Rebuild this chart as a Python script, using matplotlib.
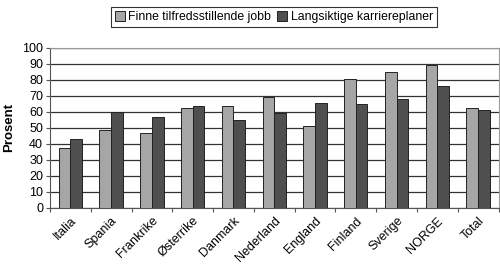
import numpy as np
import matplotlib
import matplotlib.pyplot as plt

matplotlib.rcParams['font.family'] = ['Liberation Sans', 'DejaVu Sans']
matplotlib.rcParams['font.size'] = 9

# --- Дані ---
countries = ['Italia', 'Spania', 'Frankrike', 'Østerrike', 'Danmark', 'Nederland',
             'England', 'Finland', 'Sverige', 'NORGE', 'Total']
jobb = [37.3, 48.7, 46.7, 62.3, 64.0, 69.0, 51.5, 80.8, 84.8, 89.2, 62.7]
karriere = [43.1, 59.8, 56.7, 64.0, 54.8, 59.6, 65.8, 65.2, 68.3, 76.0, 61.0]
series_names = ['Finne tilfredsstillende jobb', 'Langsiktige karriereplaner']

fig = plt.figure(figsize=(5.0, 2.69), dpi=100)
ax = fig.add_axes([0.1, 0.227, 0.897, 0.595])

x = np.arange(len(countries))
w = 0.286
ax.bar(x - w / 2, jobb, w, color='#a6a6a6', edgecolor='#222222', linewidth=0.7,
       label=series_names[0], zorder=3)
ax.bar(x + w / 2, karriere, w, color='#4f4f4f', edgecolor='#222222', linewidth=0.7,
       label=series_names[1], zorder=3)

ax.set_xlim(-0.5, len(countries) - 0.5)
ax.set_ylim(0, 100)
ax.set_yticks(np.arange(0, 101, 10))
ax.yaxis.grid(True, color='#333333', linewidth=0.9, zorder=0)
ax.set_axisbelow(True)

# tick marks between categories, labels at centres
ax.set_xticks(np.arange(-0.5, len(countries), 1.0))
ax.set_xticklabels([])
ax.set_xticks(x, minor=True)
ax.set_xticklabels(countries, minor=True, rotation=45, ha='right', rotation_mode='anchor')
ax.tick_params(axis='x', which='minor', length=0, pad=5)
ax.tick_params(axis='x', which='major', length=3, color='#555555')
ax.tick_params(axis='y', length=3, color='#555555', pad=2)

for s in ['left', 'bottom']:
    ax.spines[s].set_color('#555555')
for s in ['top', 'right']:
    ax.spines[s].set_color('#999999')

ax.set_ylabel('Prosent', fontweight='bold', fontsize=9.5, labelpad=5)

leg = fig.legend(loc='upper center', bbox_to_anchor=(0.548, 0.995), ncol=2,
                 frameon=True, fancybox=False, edgecolor='black', fontsize=8.8,
                 handlelength=0.8, handleheight=0.8, handletextpad=0.3,
                 columnspacing=0.5, borderpad=0.3)
leg.get_frame().set_linewidth(0.8)

plt.savefig('out.png', dpi=100)
